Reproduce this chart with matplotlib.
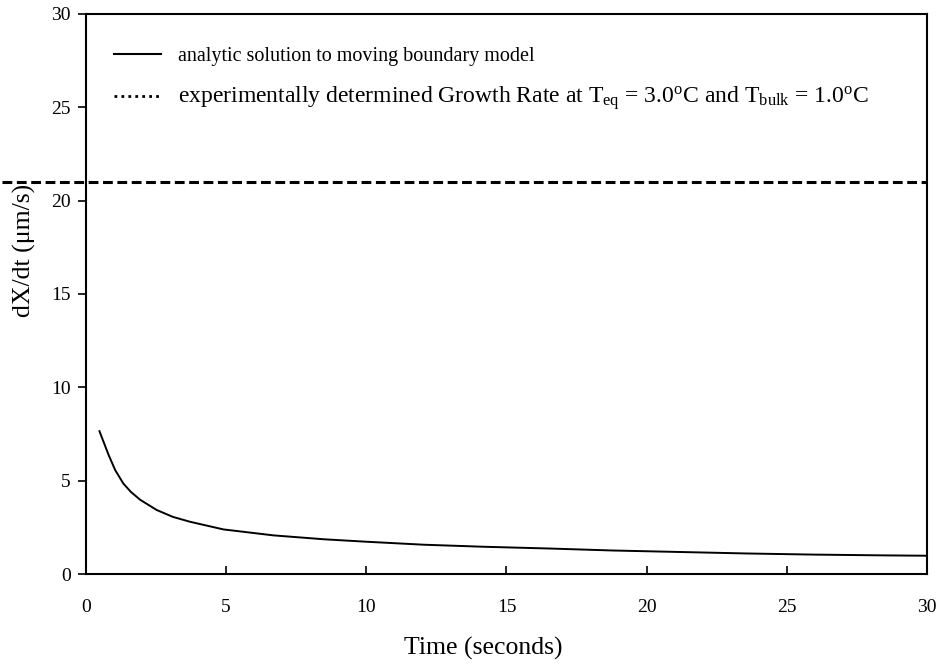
import matplotlib
matplotlib.use("Agg")
import matplotlib.pyplot as plt
from matplotlib.lines import Line2D

plt.rcParams['font.family'] = ['Liberation Serif', 'DejaVu Serif']
plt.rcParams['mathtext.fontset'] = 'custom'
plt.rcParams['mathtext.rm'] = 'Liberation Serif'
plt.rcParams['mathtext.it'] = 'Liberation Serif:italic'

# analytic solution
time_s = [0.48, 0.8, 1.04, 1.33, 1.6, 1.93, 2.52, 3.1, 3.71, 4.9, 6.69, 8.5, 10.0,
          12.05, 14.2, 16.45, 18.8, 21.2, 23.6, 26.0, 28.4, 30.0]
rate = [7.65, 6.4, 5.57, 4.85, 4.4, 3.98, 3.43, 3.06, 2.80, 2.39, 2.07, 1.86, 1.73,
        1.57, 1.46, 1.37, 1.26, 1.18, 1.10, 1.04, 1.00, 0.98]

# experimental growth rate
exp_rate = 21.0

x_ticks = [0, 5, 10, 15, 20, 25, 30]
y_ticks = [0, 5, 10, 15, 20, 25, 30]

fig = plt.figure(figsize=(9.39, 6.64), dpi=100)
ax = fig.add_axes([0.0916, 0.1355, 0.8956, 0.8435])

ax.plot(time_s, rate, color='black', lw=1.4)
ax.axhline(exp_rate, xmin=-0.1, xmax=1.0, color='black', lw=2.2,
           linestyle=(0, (3.2, 1.5)), clip_on=False)

ax.set_xlim(0, 30)
ax.set_ylim(0, 30)
ax.set_xticks(x_ticks)
ax.set_yticks(y_ticks)
ax.tick_params(axis='x', direction='in', length=6, width=1.2, pad=18, labelsize=14)
ax.tick_params(axis='y', direction='out', length=6, width=1.2, pad=5, labelsize=14)
for s in ax.spines.values():
    s.set_linewidth(1.5)

ax.set_xlabel('Time (seconds)', fontsize=18.5)
ax.xaxis.set_label_coords(0.472, -0.112)
ax.set_ylabel('dX/dt (\u03bcm/s)', fontsize=18.5)
ax.yaxis.set_label_coords(-0.06, 0.577)

handles = [Line2D([], [], color='black', lw=1.5),
           Line2D([], [], color='black', lw=2, linestyle=(0, (1, 1.5)))]
labels = ['analytic solution to moving boundary model',
          r'experimentally determined Growth Rate at T$_{\mathrm{eq}}$ = 3.0$^{\mathrm{o}}$C'
          r' and T$_{\mathrm{bulk}}$ = 1.0$^{\mathrm{o}}$C']
leg = ax.legend(handles, labels, loc='upper left', bbox_to_anchor=(0.024, 0.955),
                frameon=False, fontsize=14, handlelength=2.4, handletextpad=0.9,
                labelspacing=0.95, borderaxespad=0)
leg.get_texts()[0].set_fontsize(14.5)
leg.get_texts()[1].set_fontsize(17)

fig.savefig('out.png', dpi=100)
